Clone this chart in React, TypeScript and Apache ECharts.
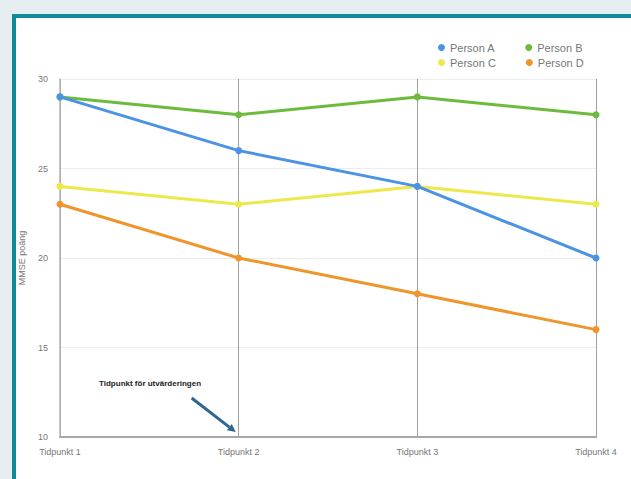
import React, { useEffect, useRef } from "react";
import * as echarts from "echarts";

const categories = ["Tidpunkt 1", "Tidpunkt 2", "Tidpunkt 3", "Tidpunkt 4"];
const personA = [29, 26, 24, 20];
const personB = [29, 28, 29, 28];
const personC = [24, 23, 24, 23];
const personD = [23, 20, 18, 16];
const seriesNames = ["Person A", "Person B", "Person C", "Person D"];
const colors = ["#4b93e6", "#6dbb3c", "#ede84b", "#f0952c"];
const yAxisName = "MMSE poäng";
const annotationText = "Tidpunkt för utvärderingen";

export default function App() {
  const ref = useRef<HTMLDivElement>(null);
  useEffect(() => {
    if (!ref.current) return;
    const chart = echarts.init(ref.current, null, { renderer: "svg" });
    const data = [personA, personB, personC, personD];
    const font = "Liberation Sans, Arial, sans-serif";
    const legendText = { fontSize: 11, color: "#777", fontFamily: font };
    chart.setOption({
      animation: false,
      backgroundColor: "transparent",
      textStyle: { fontFamily: font },
      grid: { left: 60, right: 35, top: 79, bottom: 42, containLabel: false },
      legend: [
        {
          data: ["Person A", "Person B"],
          left: 433,
          top: 37,
          icon: "circle",
          itemWidth: 7,
          itemHeight: 7,
          itemGap: 30,
          textStyle: legendText,
        },
        {
          data: ["Person C", "Person D"],
          left: 433,
          top: 52,
          icon: "circle",
          itemWidth: 7,
          itemHeight: 7,
          itemGap: 30,
          textStyle: legendText,
        },
      ],
      xAxis: {
        type: "category",
        data: categories,
        boundaryGap: false,
        axisLine: { lineStyle: { color: "#a8a8a8", width: 2 } },
        axisTick: { show: false },
        axisLabel: { color: "#777", fontSize: 9, margin: 10, fontFamily: font },
        splitLine: { show: true, lineStyle: { color: "#a0a0a0", width: 1 } },
      },
      yAxis: {
        type: "value",
        min: 10,
        max: 30,
        interval: 5,
        name: yAxisName,
        nameLocation: "middle",
        nameGap: 34,
        nameRotate: 90,
        nameTextStyle: { color: "#777", fontSize: 9, fontFamily: font },
        axisLine: { show: true, lineStyle: { color: "#b5b5b5", width: 1.5 } },
        axisTick: { show: false },
        axisLabel: { color: "#777", fontSize: 9, margin: 12, fontFamily: font },
        splitLine: { show: true, lineStyle: { color: "#ececec", width: 1 } },
      },
      series: data.map((d, i) => ({
        name: seriesNames[i],
        type: "line",
        data: d,
        symbol: "circle",
        symbolSize: 7,
        color: colors[i],
        lineStyle: { width: 3, color: colors[i] },
        itemStyle: { color: colors[i] },
        z: 10 - i,
      })),
    });
    const end = chart.convertToPixel({ xAxisIndex: 0, yAxisIndex: 0 }, [categories[1], 10]) as number[];
    const ex = end[0] - 3;
    const ey = end[1] - 5;
    const sx = ex - 44;
    const sy = ey - 34;
    const ang = Math.atan2(ey - sy, ex - sx);
    const L = 8;
    const W = 4;
    const bx = ex - L * Math.cos(ang);
    const by = ey - L * Math.sin(ang);
    const px = -Math.sin(ang) * W;
    const py = Math.cos(ang) * W;
    chart.setOption({
      graphic: [
        {
          type: "text",
          left: 99,
          top: 379,
          style: {
            text: annotationText,
            fontSize: 8,
            fontWeight: "bold",
            fill: "#222",
            fontFamily: font,
          },
        },
        {
          type: "line",
          shape: { x1: sx, y1: sy, x2: bx, y2: by },
          style: { stroke: "#2a6796", lineWidth: 3 },
        },
        {
          type: "polygon",
          shape: {
            points: [
              [ex, ey],
              [bx + px, by + py],
              [bx - px, by - py],
            ],
          },
          style: { fill: "#2a6796" },
        },
      ],
    });
    return () => chart.dispose();
  }, []);
  return (
    <div style={{ position: "fixed", left: 0, top: 0, width: 631, height: 479, background: "#e6eef2", overflow: "hidden" }}>
      <div
        style={{
          position: "absolute",
          left: 12,
          top: 14,
          width: 640,
          height: 490,
          background: "#ffffff",
          borderLeft: "4px solid #0e8a99",
          borderTop: "4px solid #0e8a99",
        }}
      />
      <div ref={ref} style={{ position: "absolute", left: 0, top: 0, width: 631, height: 479 }} />
    </div>
  );
}
